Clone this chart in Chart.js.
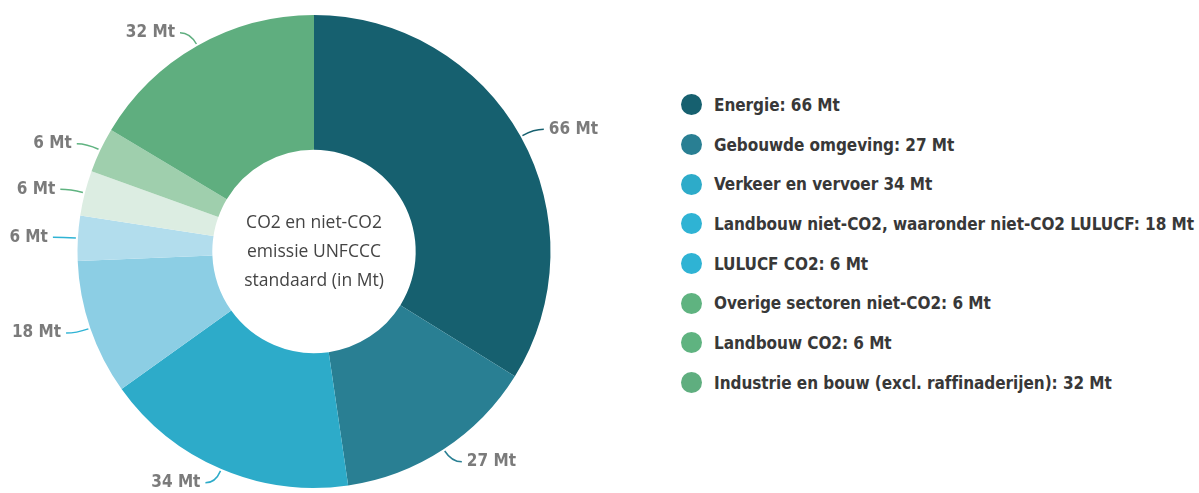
<!DOCTYPE html>
<html>
<head>
<meta charset="utf-8">
<script src="https://cdn.jsdelivr.net/npm/chart.js@4.4.0/dist/chart.umd.min.js"></script>
<style>
    body { margin: 0; background: #fff; }
    #wrap { position: relative; width: 1199px; height: 493px; overflow: hidden; }
    #chartBox { position: absolute; left: 0; top: 0; width: 628px; height: 493px; }
    #legend { position: absolute; left: 681px; top: 85px; margin: 0; padding: 0; list-style: none; }
    #legend li { height: 39.7px; display: flex; align-items: center; white-space: nowrap;
        font-family: "DejaVu Sans Condensed", "Liberation Sans Narrow", sans-serif; font-weight: bold;
        font-size: 17px; color: #383838; letter-spacing: -0.05px; }
    #legend li span { display: inline-block; width: 21px; height: 21px; border-radius: 50%; margin-right: 12px; }
</style>
</head>
<body>
<div id="wrap">
    <div id="chartBox"><canvas id="donut"></canvas></div>
    <ul id="legend"></ul>
</div>
<script>
"use strict";

const categories = [
    "Energie",
    "Gebouwde omgeving",
    "Verkeer en vervoer",
    "Landbouw niet-CO2, waaronder niet-CO2 LULUCF",
    "LULUCF CO2",
    "Overige sectoren niet-CO2",
    "Landbouw CO2",
    "Industrie en bouw (excl. raffinaderijen)"
];
const values = [66, 27, 34, 18, 6, 6, 6, 32];
const legendText = [
    "Energie: 66 Mt",
    "Gebouwde omgeving: 27 Mt",
    "Verkeer en vervoer 34 Mt",
    "Landbouw niet-CO2, waaronder niet-CO2 LULUCF: 18 Mt",
    "LULUCF CO2: 6 Mt",
    "Overige sectoren niet-CO2: 6 Mt",
    "Landbouw CO2: 6 Mt",
    "Industrie en bouw (excl. raffinaderijen): 32 Mt"
];
const sliceColors = ["#16606f", "#297f93", "#2dabc9", "#8ccee4", "#b2dded", "#dcede2", "#9fcfad", "#5fae7f"];
const legendColors = ["#16606f", "#297f93", "#2dabc9", "#2fb3d4", "#2fb3d4", "#5fb380", "#5fb380", "#5fae7f"];
const centerLines = ["CO2 en niet-CO2", "emissie UNFCCC", "standaard (in Mt)"];

// labels with small crooked leader lines outside the ring
const outerLabels = {
    id: "outerLabels",
    afterDatasetsDraw(chart) {
        const ctx = chart.ctx;
        const meta = chart.getDatasetMeta(0);
        ctx.save();
        ctx.font = "bold 17px 'DejaVu Sans Condensed', 'Liberation Sans Narrow', sans-serif";
        ctx.textBaseline = "middle";
        meta.data.forEach(function(arc, i) {
            const p = arc.getProps(["x", "y", "startAngle", "endAngle", "outerRadius"], true);
            const mid = (p.startAngle + p.endAngle) / 2;
            const r0 = p.outerRadius + 2;
            const r1 = p.outerRadius + 15;
            const x0 = p.x + Math.cos(mid) * r0, y0 = p.y + Math.sin(mid) * r0;
            const x1 = p.x + Math.cos(mid) * r1, y1 = p.y + Math.sin(mid) * r1;
            const right = Math.cos(mid) >= 0;
            const x2 = x1 + (right ? 10 : -10);
            ctx.strokeStyle = legendColors[i];
            ctx.lineWidth = 1.5;
            ctx.beginPath();
            ctx.moveTo(x0, y0);
            ctx.quadraticCurveTo(x1, y1, x2, y1);
            ctx.stroke();
            ctx.fillStyle = "#7b7b7b";
            ctx.textAlign = right ? "left" : "right";
            ctx.fillText(values[i] + " Mt", x2 + (right ? 5 : -5), y1);
        });
        ctx.restore();
    },
    afterDraw(chart) {
        const ctx = chart.ctx;
        const arc = chart.getDatasetMeta(0).data[0];
        ctx.save();
        ctx.font = "17.5px 'Open Sans', sans-serif";
        ctx.fillStyle = "#444";
        ctx.textAlign = "center";
        ctx.textBaseline = "middle";
        centerLines.forEach(function(line, i) {
            ctx.fillText(line, arc.x, arc.y - 28 + i * 29);
        });
        ctx.restore();
    }
};

let chart = new Chart(document.getElementById("donut"), {
    type: "doughnut",
    data: {
        labels: categories,
        datasets: [{
            data: values,
            backgroundColor: sliceColors,
            borderWidth: 0
        }]
    },
    options: {
        responsive: true,
        maintainAspectRatio: false,
        animation: false,
        cutout: "43%",
        layout: { padding: { top: 15, bottom: 5 } },
        plugins: {
            legend: { display: false },
            tooltip: { enabled: false }
        }
    },
    plugins: [outerLabels]
});

let legendHtml = "";
for (let i = 0; i < legendText.length; i++) {
    legendHtml += '<li><span style="background:' + legendColors[i] + '"></span>' + legendText[i] + '</li>';
}
document.getElementById("legend").innerHTML = legendHtml;
</script>
</body>
</html>
